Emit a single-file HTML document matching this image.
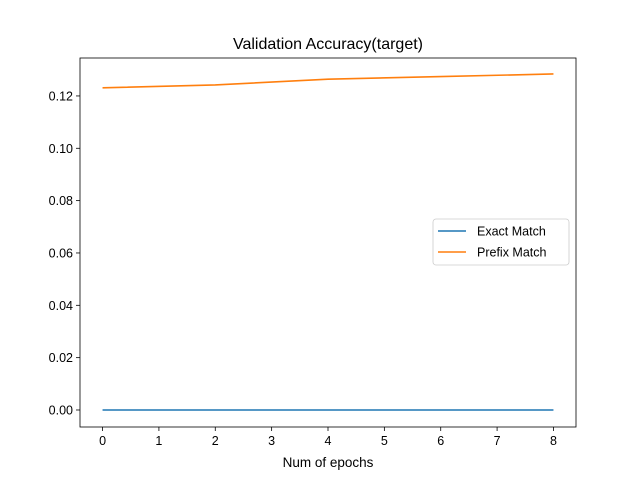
<!DOCTYPE html>
<html><head><meta charset="utf-8"><style>body{margin:0;background:#fff}svg{display:block;font-family:"Liberation Sans","DejaVu Sans",sans-serif}</style></head>
<body>
<svg id="chart" width="640" height="480"></svg>
<script>
const epochs = [0, 2, 4, 6, 8];
const exactMatch = [0, 0, 0, 0, 0];
const prefixMatch = [0.1231, 0.1242, 0.1264, 0.1274, 0.1284];
const xTicks = [0, 1, 2, 3, 4, 5, 6, 7, 8];
const yTicks = [0.00, 0.02, 0.04, 0.06, 0.08, 0.10, 0.12];
const L=80,R=576,T=58,B=427;
const xmin=-0.4,xmax=8.4,ymin=-0.0065,ymax=0.1345;
const sx=v=>L+(v-xmin)/(xmax-xmin)*(R-L);
const sy=v=>B-(v-ymin)/(ymax-ymin)*(B-T);
const NS="http://www.w3.org/2000/svg";
const svg=document.getElementById('chart');
function mk(tag,attrs,parent){const e=document.createElementNS(NS,tag);for(const k in attrs)e.setAttribute(k,attrs[k]);(parent||svg).appendChild(e);return e;}
const t=mk('text',{x:328,y:49,'text-anchor':'middle','font-size':16,fill:'#000'});t.textContent='Validation Accuracy(target)';


xTicks.forEach(v=>{
  const l=mk('line',{x1:sx(v),x2:sx(v),y1:B,y2:B+4,stroke:'#000','stroke-width':0.8});
  
  
  const tx=mk('text',{x:sx(v),y:B+18,'text-anchor':'middle','font-size':12.5});tx.textContent=v;
  
  
});
yTicks.forEach(v=>{
  const l=mk('line',{x1:L-4,x2:L,y1:sy(v),y2:sy(v),stroke:'#000','stroke-width':0.8});
  
  
  const tx=mk('text',{x:L-7,y:sy(v)+4.5,'text-anchor':'end','font-size':12.5});tx.textContent=v.toFixed(2);
  
  
});
const xl=mk('text',{x:328,y:467,'text-anchor':'middle','font-size':13.5});xl.textContent='Num of epochs';


function line(vals,color,name){
  const p=mk('polyline',{points:epochs.map((e,i)=>sx(e)+','+sy(vals[i])).join(' '),fill:'none',stroke:color,'stroke-width':1.6});
  
  
}
line(exactMatch,'#1f77b4','exact-match-line');
line(prefixMatch,'#ff7f0e','prefix-match-line');
const fr=mk('rect',{x:L,y:T,width:R-L,height:B-T,fill:'none',stroke:'#000','stroke-width':0.8});


const lg=mk('g',{});


mk('rect',{x:433,y:219,width:136,height:46,rx:3,fill:'#fff',stroke:'#ccc','stroke-width':0.8},lg);
[['Exact Match','#1f77b4',231],['Prefix Match','#ff7f0e',252]].forEach(([n,c,y])=>{
  mk('line',{x1:438,x2:466,y1:y,y2:y,stroke:c,'stroke-width':1.6},lg);
  const tx=mk('text',{x:477,y:y+4.5,'font-size':12.5},lg);tx.textContent=n;
  
  
});
</script>
</body></html>
